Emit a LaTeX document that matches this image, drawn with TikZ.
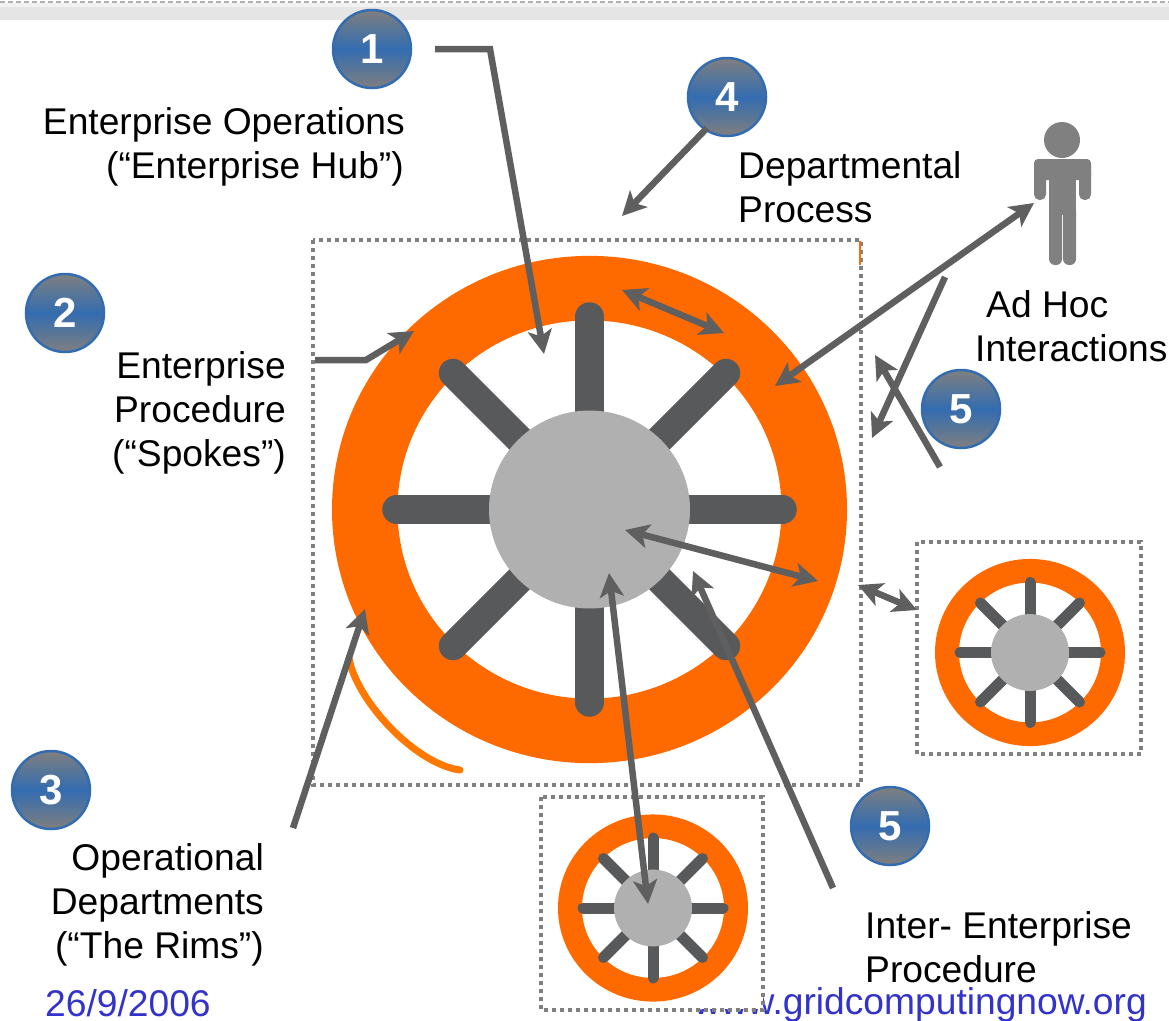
\documentclass[tikz,border=0pt]{standalone}
\usepackage{fontspec}
\setmainfont{Liberation Sans}
\usetikzlibrary{arrows.meta}
\definecolor{rimorange}{HTML}{FF6A00}
\definecolor{spokegray}{HTML}{58595B}
\definecolor{hubgray}{HTML}{B0B0B0}
\definecolor{arrowgray}{HTML}{5F5F5F}
\definecolor{badgeblue}{HTML}{336CB0}
\definecolor{linkblue}{HTML}{3333CC}
\tikzset{
  label/.style={inner sep=0pt, font=\fontsize{37.2}{44}\selectfont},
  badge/.style={circle, minimum size=78pt, inner sep=0pt, draw=badgeblue, line width=2.5pt,
    top color=gray, bottom color=gray, middle color=badgeblue, text=white,
    font=\fontsize{42}{42}\selectfont\bfseries},
  pointer/.style={draw=arrowgray, line width=6.5pt, -{Stealth[length=24pt,width=24pt,inset=6pt]}},
  both/.style={draw=arrowgray, line width=6.5pt, {Stealth[length=24pt,width=24pt,inset=6pt]}-{Stealth[length=24pt,width=24pt,inset=6pt]}},
  box/.style={draw=gray, line width=4pt, dash pattern=on 4pt off 4pt}
}
% wheel: x, y, outer radius, inner radius, hub radius, spoke tip radius, spoke width
\newcommand{\wheel}[7]{
  \fill[rimorange, even odd rule] (#1,#2) circle [x radius=#3, y radius=0.985*#3] (#1,#2) circle [x radius=#4, y radius=0.985*#4];
  \foreach \a in {0,45,...,315}
    \draw[spokegray, line width=#7pt, line cap=round] (#1,#2) -- ++(\a:#6);
  \fill[hubgray] (#1,#2) circle [x radius=#5, y radius=0.985*#5];
}
\begin{document}
\begin{tikzpicture}[x=1pt, y=-1pt]
\useasboundingbox (0,0) rectangle (1169,1020);
% header strip
\fill[black!10] (0,7) rectangle (1169,20);
\fill[black!5] (0,3) rectangle (1169,7);
\draw[black!30, line width=2pt, dash pattern=on 5pt off 3pt] (0,1.5) -- (1169,1.5);

% footer text, the small wheel's white box sits on top of it
\node[label, anchor=base west, text=linkblue] (date) at (45,1016) {26/9/2006};
\node[label, anchor=base east, text=linkblue] (url) at (1147,1014) {www.gridcomputingnow.org};

% big wheel
\draw[box] (313,240) rectangle (861,785);
\wheel{589.5}{509.5}{257.5}{192}{100.5}{193}{28.5}
\fill[rimorange] (859,241) rectangle (861,265);
% right wheel
\draw[box] (917,542) rectangle (1141,754);
\wheel{1030}{652.5}{95}{71}{39}{70}{11}
% bottom wheel
\fill[white] (541,797) rectangle (763,1009);
\draw[box] (541,797) rectangle (763,1010);
\wheel{653}{908}{95}{71}{39}{70}{11}

% orange pen stroke
\draw[orange!95!red, line width=7pt, line cap=round] (349,658) .. controls (356,700) and (415,764) .. (460,770);

% person
\fill[gray] (1062,140) circle (18);
\fill[gray, rounded corners=4pt] (1034,159) rectangle (1091,180);
\fill[gray, rounded corners=5.5pt] (1034,165) rectangle (1046,200);
\fill[gray, rounded corners=5.5pt] (1079,165) rectangle (1091,200);
\fill[gray] (1049,165) rectangle (1076,215);
\fill[gray, rounded corners=6pt] (1049,205) rectangle (1062,265);
\fill[gray, rounded corners=6pt] (1063,205) rectangle (1076,265);

% badges
\node[badge] (one) at (372,49) {1};
\node[badge] (four) at (727,97) {4};
\node[badge] (two) at (65,313) {2};
\node[badge] (fiveb) at (961,409) {5};
\node[badge] (three) at (51,790) {3};
\node[badge] (fivea) at (890,826) {5};

% labels
\node[label, anchor=north east, align=right] (hublabel) at (405,107) {Enterprise Operations\\(“Enterprise Hub”)\hspace*{1pt}};
\node[label, anchor=north west, align=left] (deptlabel) at (738,151) {Departmental\\Process};
\node[label, anchor=north west, align=left] (adhoclabel) at (975,290) {\hspace*{11pt}Ad Hoc\\Interactions};
\node[label, anchor=north east, align=right] (spokelabel) at (286,351) {Enterprise\\Procedure\\(“Spokes”)};
\node[label, anchor=north east, align=right] (rimlabel) at (264,843) {Operational\\Departments\\(“The Rims”)};
\node[label, anchor=north west, align=left] (interlabel) at (865,911) {Inter- Enterprise\\Procedure};

% connector ends
\coordinate (hubfrom) at (435,49);
\coordinate (hubbend) at (490,49);
\coordinate (hubto) at (544,354);
\coordinate (deptfrom) at (707,128);
\coordinate (deptto) at (622,216);
\coordinate (rima) at (622,290);
\coordinate (rimb) at (724,333);
\coordinate (spokefrom) at (315,360);
\coordinate (spokebend) at (366,360);
\coordinate (spoketo) at (414,331);
\coordinate (rimc) at (775,386);
\coordinate (person) at (1034,203);
\coordinate (adhocfrom) at (945,277);
\coordinate (adhocto) at (872,438);
\coordinate (fivefrom) at (940,467);
\coordinate (fiveto) at (875,355);
\coordinate (hubc) at (625,530);
\coordinate (rimd) at (818,581);
\coordinate (boxa) at (858,585);
\coordinate (boxb) at (917,610);
\coordinate (hubd) at (609,573);
\coordinate (smallhub) at (648,904);
\coordinate (interfrom) at (833,888);
\coordinate (interto) at (693,571);
\coordinate (rimfrom) at (293,828);
\coordinate (rimto) at (365,609);

% connectors
\draw[pointer] (hubfrom) -- (hubbend) -- (hubto);
\draw[pointer] (deptfrom) -- (deptto);
\draw[both] (rima) -- (rimb);
\draw[pointer] (spokefrom) -- (spokebend) -- (spoketo);
\draw[both] (rimc) -- (person);
\draw[pointer] (adhocfrom) -- (adhocto);
\draw[pointer] (fivefrom) -- (fiveto);
\draw[both] (hubc) -- (rimd);
\draw[both] (boxa) -- (boxb);
\draw[both] (hubd) -- (smallhub);
\draw[pointer] (interfrom) -- (interto);
\draw[pointer] (rimfrom) -- (rimto);
\end{tikzpicture}
\end{document}
